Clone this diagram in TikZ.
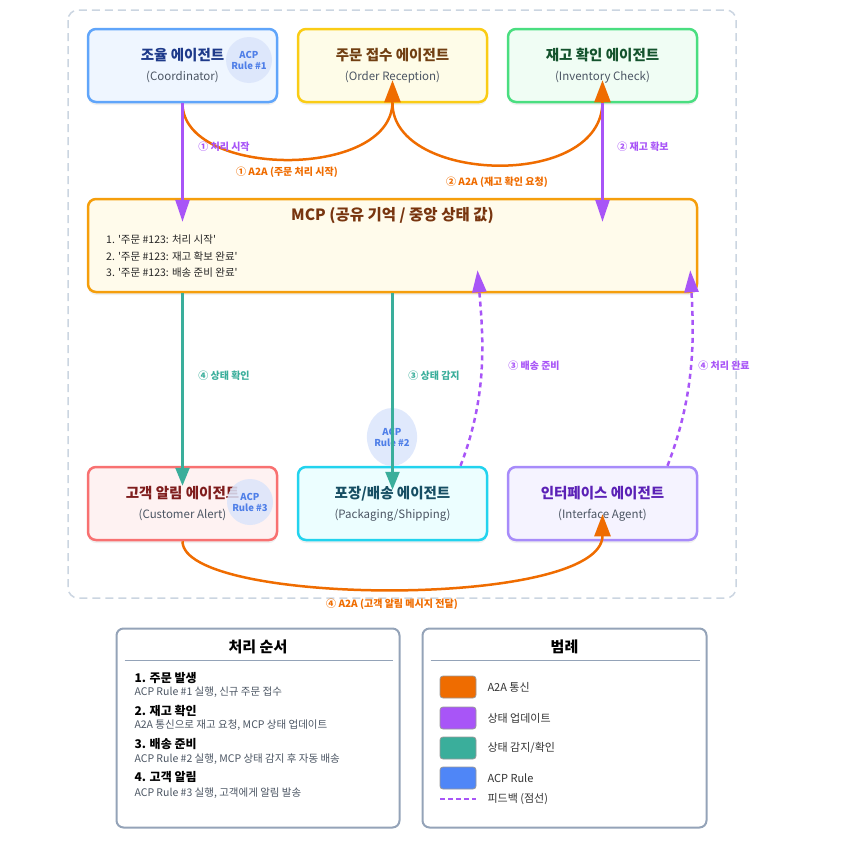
\documentclass[tikz,border=0pt]{standalone}
\usepackage{fontspec}
\setmainfont{Noto Sans CJK KR}
\usetikzlibrary{arrows.meta, positioning, shapes.geometric, shadows, calc}

\definecolor{coordB}{HTML}{60A5FA}\definecolor{coordF}{HTML}{EFF6FF}\definecolor{coordT}{HTML}{1E3A8A}
\definecolor{ordB}{HTML}{FACC15}\definecolor{ordF}{HTML}{FEFCE8}\definecolor{ordT}{HTML}{713F12}
\definecolor{invB}{HTML}{4ADE80}\definecolor{invF}{HTML}{F0FDF4}\definecolor{invT}{HTML}{14532D}
\definecolor{mcpB}{HTML}{F59E0B}\definecolor{mcpF}{HTML}{FFFBEB}\definecolor{mcpT}{HTML}{78350F}
\definecolor{alertB}{HTML}{F87171}\definecolor{alertF}{HTML}{FEF2F2}\definecolor{alertT}{HTML}{7F1D1D}
\definecolor{packB}{HTML}{22D3EE}\definecolor{packF}{HTML}{ECFEFF}\definecolor{packT}{HTML}{164E63}
\definecolor{ifaceB}{HTML}{A78BFA}\definecolor{ifaceF}{HTML}{F5F3FF}\definecolor{ifaceT}{HTML}{5B21B6}
\definecolor{subC}{HTML}{4B5563}
\definecolor{a2aC}{HTML}{EF6C00}
\definecolor{updC}{HTML}{A855F7}
\definecolor{senseC}{HTML}{3AAE9B}
\definecolor{acpC}{HTML}{4F86F7}
\definecolor{acpT}{HTML}{4F7FE8}
\definecolor{acpF}{HTML}{DBE5FB}
\definecolor{frameC}{HTML}{CBD5E1}
\definecolor{panelC}{HTML}{94A3B8}

\begin{document}
\begin{tikzpicture}[
        x=1pt, y=-1pt,
        agent/.style={rectangle, rounded corners=8pt, minimum width=189pt, minimum height=73pt,
            line width=2.5pt, align=center, font=\fontsize{11.5}{20}\selectfont,
            drop shadow={shadow xshift=0pt, shadow yshift=-3pt, opacity=0.12}},
        acp/.style={circle, fill=acpF, fill opacity=0.85, text opacity=1, minimum size=46pt,
            inner sep=0pt, align=center, text=acpT, font=\fontsize{9.5}{11}\selectfont\bfseries},
        a2a/.style={line width=2.5pt, draw=a2aC, -{Triangle[length=22pt,width=16pt]}},
        upd/.style={line width=2.5pt, draw=updC, -{Triangle[length=22pt,width=14pt]}},
        sense/.style={line width=2.5pt, draw=senseC, -{Triangle[length=18pt,width=14pt]}},
        fb/.style={upd, dash pattern=on 5pt off 4pt},
        lbl/.style={font=\fontsize{10}{12}\selectfont\bfseries},
        panel/.style={rectangle, rounded corners=7pt, draw=panelC, line width=2pt, fill=white,
            minimum width=283pt, minimum height=199pt},
        ptitle/.style={font=\fontsize{15}{18}\selectfont\bfseries},
        sitem/.style={anchor=west, font=\fontsize{12}{14}\selectfont\bfseries, text=black},
        sdesc/.style={anchor=west, font=\fontsize{10.5}{12}\selectfont, text=subC},
        swatch/.style={rectangle, rounded corners=3pt, minimum width=36pt, minimum height=22pt,
            draw=gray!80, line width=0.8pt},
        ltext/.style={anchor=west, font=\fontsize{11}{13}\selectfont, text=black!80}
    ]
        \useasboundingbox (0,0) rectangle (863,854);

        % Container
        \draw[frameC, line width=1.5pt, dash pattern=on 8pt off 5pt, rounded corners=10pt]
            (68,10) rectangle (736,598);

        % Top agents
        \node[agent, draw=coordB, fill=coordF] (coord) at (182.5,65.5)
            {{\color{coordT}\fontsize{14.5}{20}\selectfont\bfseries 조율 에이전트}\\{\color{subC}(Coordinator)}};
        \node[agent, draw=ordB, fill=ordF] (ord) at (392.5,65.5)
            {{\color{ordT}\fontsize{14.5}{20}\selectfont\bfseries 주문 접수 에이전트}\\{\color{subC}(Order Reception)}};
        \node[agent, draw=invB, fill=invF] (inv) at (602.5,65.5)
            {{\color{invT}\fontsize{14.5}{20}\selectfont\bfseries 재고 확인 에이전트}\\{\color{subC}(Inventory Check)}};

        % MCP
        \node[agent, draw=mcpB, fill=mcpF, minimum width=609pt, minimum height=93pt] (mcp) at (392.5,245.5) {};
        \node[font=\fontsize{15.5}{18}\selectfont\bfseries, text=mcpT] (mcpt) at (392.5,216) {MCP (공유 기억 / 중앙 상태 값)};
        \node[anchor=north west, align=left, font=\fontsize{10.5}{16.5}\selectfont, text=black!85, inner sep=0pt]
            (mcpl) at (106,235) {1. \textquotesingle 주문 \#123: 처리 시작\textquotesingle\\
            2. \textquotesingle 주문 \#123: 재고 확보 완료\textquotesingle\\
            3. \textquotesingle 주문 \#123: 배송 준비 완료\textquotesingle};

        % Bottom agents
        \node[agent, draw=alertB, fill=alertF] (alert) at (182.5,503.5)
            {{\color{alertT}\fontsize{14.5}{20}\selectfont\bfseries 고객 알림 에이전트}\\{\color{subC}(Customer Alert)}};
        \node[agent, draw=packB, fill=packF] (pack) at (392.5,503.5)
            {{\color{packT}\fontsize{14.5}{20}\selectfont\bfseries 포장/배송 에이전트}\\{\color{subC}(Packaging/Shipping)}};
        \node[agent, draw=ifaceB, fill=ifaceF] (iface) at (602.5,503.5)
            {{\color{ifaceT}\fontsize{14.5}{20}\selectfont\bfseries 인터페이스 에이전트}\\{\color{subC}(Interface Agent)}};

        % ACP rules
        \node[acp] (acp1) at (249,60) {ACP\\Rule \#1};
        \node[acp, ellipse, minimum width=46pt, minimum height=58pt] (acp2) at (392,437) {ACP\\Rule \#2};
        \node[acp] (acp3) at (250,502) {ACP\\Rule \#3};

        % A2A
        \draw[a2a] (coord.south) .. controls +(0,75) and +(0,100) .. ([yshift=23pt]ord.south);
        \draw[a2a] (ord.south) .. controls +(0,80) and +(0,110) .. ([yshift=23pt]inv.south);
        \draw[a2a] (alert.south) .. controls +(0,65) and +(0,95) .. ([yshift=27pt]iface.south);

        % state updates
        \draw[upd] (coord.south) -- ([yshift=-24pt]coord.south |- mcp.north);
        \draw[upd] (inv.south) -- ([yshift=-24pt]inv.south |- mcp.north);

        % sensing
        \draw[sense] (alert.north |- mcp.south) -- ([yshift=-20pt]alert.north);
        \draw[sense] (mcp.south) -- ([yshift=-24pt]pack.north);

        % feedback
        \draw[fb] ([xshift=68pt]pack.north) .. controls +(27,-70) and +(6,70) .. ([xshift=85pt,yshift=23pt]mcp.south);
        \draw[fb] ([xshift=65pt]iface.north) .. controls +(27,-70) and +(4,70) .. ([xshift=-8pt,yshift=23pt]mcp.south east);

        % labels
        \node[lbl, text=updC] (l1) at (224,147) {① 처리 시작};
        \node[lbl, text=a2aC] (l2) at (287,172) {① A2A (주문 처리 시작)};
        \node[lbl, text=a2aC] (l3) at (497,182) {② A2A (재고 확인 요청)};
        \node[lbl, text=updC] (l4) at (643,147) {② 재고 확보};
        \node[lbl, text=senseC] (l5) at (224,376) {④ 상태 확인};
        \node[lbl, text=senseC] (l6) at (434,376) {③ 상태 감지};
        \node[lbl, text=updC] (l7) at (534,366) {③ 배송 준비};
        \node[lbl, text=updC] (l8) at (724,366) {④ 처리 완료};
        \node[lbl, text=a2aC] (l9) at (392,604) {④ A2A (고객 알림 메시지 전달)};

        % Steps panel
        \node[panel] (steps) at (258,728) {};
        \node[ptitle] (stepst) at ([yshift=-19pt]steps.north) {처리 순서};
        \draw[panelC, line width=1.5pt] ([xshift=9pt,yshift=-33pt]steps.north west) -- ([xshift=-8pt,yshift=-33pt]steps.north east);
        \node[sitem] (s1) at (131,678) {1. 주문 발생};
        \node[sdesc] (s1d) at (131,692) {ACP Rule \#1 실행, 신규 주문 접수};
        \node[sitem] (s2) at (131,711) {2. 재고 확인};
        \node[sdesc] (s2d) at (131,725) {A2A 통신으로 재고 요청, MCP 상태 업데이트};
        \node[sitem] (s3) at (131,744) {3. 배송 준비};
        \node[sdesc] (s3d) at (131,759) {ACP Rule \#2 실행, MCP 상태 감지 후 자동 배송};
        \node[sitem] (s4) at (131,777) {4. 고객 알림};
        \node[sdesc] (s4d) at (131,793) {ACP Rule \#3 실행, 고객에게 알림 발송};

        % Legend panel
        \node[panel, minimum width=284pt] (legend) at (564.5,728) {};
        \node[ptitle] (legendt) at ([yshift=-19pt]legend.north) {범례};
        \draw[panelC, line width=1.5pt] ([xshift=9pt,yshift=-33pt]legend.north west) -- ([xshift=-8pt,yshift=-33pt]legend.north east);
        \node[swatch, fill=a2aC] (k1) at (458,687) {};
        \node[ltext] (k1t) at (484,687) {A2A 통신};
        \node[swatch, fill=updC] (k2) at (458,718) {};
        \node[ltext] (k2t) at (484,718) {상태 업데이트};
        \node[swatch, fill=senseC] (k3) at (458,748) {};
        \node[ltext] (k3t) at (484,748) {상태 감지/확인};
        \node[swatch, fill=acpC] (k4) at (458,778) {};
        \node[ltext] (k4t) at (484,778) {ACP Rule};
        \coordinate (k5a) at (440,799);
        \coordinate (k5b) at (476,799);
        \draw[updC, line width=2.5pt, dash pattern=on 5pt off 3pt] (k5a) -- (k5b);
        \node[ltext] (k5t) at (484,799) {피드백 (점선)};
    \end{tikzpicture}
\end{document}
